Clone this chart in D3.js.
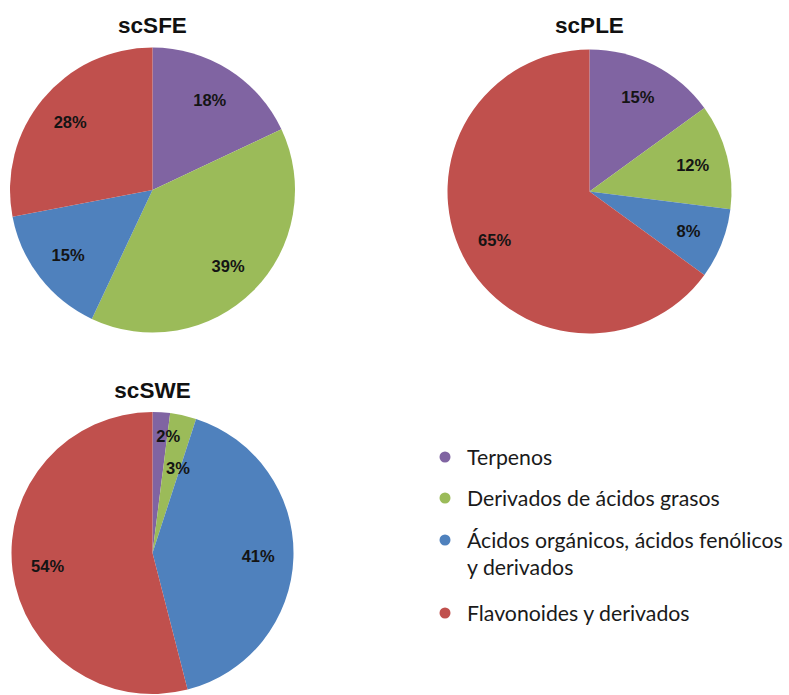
<!DOCTYPE html>
<html>
<head>
<meta charset="utf-8">
<script src="https://cdn.jsdelivr.net/npm/d3@7"></script>
<style>
  html, body { margin: 0; padding: 0; background: #fff; }
  svg { display: block; }
</style>
</head>
<body>
<svg id="chart" width="789" height="695"></svg>
<script>
// Compound classes, in slice order (clockwise from 12 o'clock)
const categories = [
  "Terpenos",
  "Derivados de ácidos grasos",
  "Ácidos orgánicos, ácidos fenólicos y derivados",
  "Flavonoides y derivados"
];
const colors = ["#8064A2", "#9BBB59", "#4F81BD", "#C0504D"];

// Percent of identified compounds per extraction method
const scSFE = [18, 39, 15, 28];
const scPLE = [15, 12, 8, 65];
const scSWE = [2, 3, 41, 54];

// Legend entries, wrapped as drawn
const legendLines = [
  ["Terpenos"],
  ["Derivados de ácidos grasos"],
  ["Ácidos orgánicos, ácidos fenólicos", "y derivados"],
  ["Flavonoides y derivados"]
];

const svg = d3.select("#chart");

const color = d3.scaleOrdinal().domain(categories).range(colors);

const panels = [
  { title: "scSFE", values: scSFE, cx: 152.5, cy: 190, r: 142.5, ty: 33 },
  { title: "scPLE", values: scPLE, cx: 589.5, cy: 191.5, r: 142, ty: 33 },
  { title: "scSWE", values: scSWE, cx: 152.5, cy: 553, r: 141, ty: 398 }
];

const pie = d3.pie().sort(null).value(d => d.value);

panels.forEach(p => {
  const data = categories.map((c, i) => ({ category: c, value: p.values[i] }));
  const arcs = pie(data);
  const g = svg.append("g").attr("transform", `translate(${p.cx},${p.cy})`);

  const arc = d3.arc().innerRadius(0).outerRadius(p.r);
  g.selectAll("path.slice")
    .data(arcs)
    .join("path")
    .attr("class", "slice")
    .attr("d", arc)
    .attr("fill", d => color(d.data.category));

  // Value labels: inside each slice; tiny slices are staggered
  let smallIdx = 0;
  g.selectAll("text.val")
    .data(arcs)
    .join("text")
    .attr("class", "val")
    .attr("transform", d => {
      const mid = (d.startAngle + d.endAngle) / 2;
      let a = mid, rr = p.r * 0.75;
      if (d.data.value < 5) {
        a = mid + 4 * Math.PI / 180;
        rr = p.r * (smallIdx === 0 ? 0.84 : 0.63);
        smallIdx++;
      }
      return `translate(${rr * Math.sin(a)},${-rr * Math.cos(a)})`;
    })
    .attr("text-anchor", "middle")
    .attr("dy", "0.36em")
    .attr("font-family", "'Liberation Sans', Arial, sans-serif")
    .attr("font-weight", "bold")
    .attr("font-size", 16.5)
    .attr("fill", "#141414")
    .text(d => d.data.value + "%");

  svg.append("text")
    .attr("x", p.cx)
    .attr("y", p.ty)
    .attr("text-anchor", "middle")
    .attr("font-family", "'Liberation Sans', Arial, sans-serif")
    .attr("font-weight", "bold")
    .attr("font-size", 22.5)
    .attr("fill", "#111")
    .text(p.title);
});

// Legend
const legend = svg.append("g").attr("class", "legend");
const rowY = [457, 498, 540, 613];
const items = legend.selectAll("g.item")
  .data(categories)
  .join("g")
  .attr("class", "item")
  .attr("transform", (d, i) => `translate(445,${rowY[i]})`);

items.append("circle")
  .attr("r", 5.5)
  .attr("fill", d => color(d));

const txt = items.append("text")
  .attr("x", 22)
  .attr("y", 8)
  .attr("font-family", "Lato, 'Open Sans', sans-serif")
  .attr("font-size", 20)
  .attr("fill", "#1a1a1a");

txt.each(function(d, i) {
  const t = d3.select(this);
  legendLines[i].forEach((line, j) => {
    t.append("tspan").attr("x", 22).attr("dy", j === 0 ? 0 : 27).text(line);
  });
});

// Fit the legend type so its longest line spans the legend width
const longest = txt.filter((d, i) => i === 2).select("tspan").node();
const w = longest.getComputedTextLength();
const fs = 20 * 316 / w;
txt.attr("font-size", fs);
</script>
</body>
</html>
